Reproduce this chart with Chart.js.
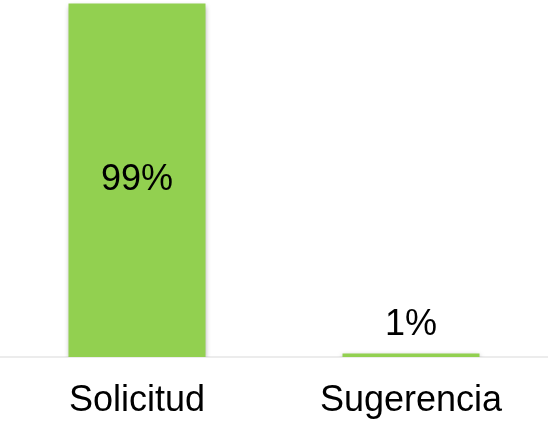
<!DOCTYPE html>
<html>
<head>
<meta charset="utf-8">
<script src="https://cdn.jsdelivr.net/npm/chart.js@4/dist/chart.umd.min.js"></script>
<style>
  html, body { margin: 0; padding: 0; background: #ffffff; }
  #wrap { width: 548px; height: 424px; position: relative; }
</style>
</head>
<body>
<div id="wrap"><canvas id="c"></canvas></div>
<script>
// Share of requests by type (percent)
const categories = ['Solicitud', 'Sugerencia'];
const percentages = [99, 1];

const FONT = '"Liberation Sans", Arial, Helvetica, sans-serif';

// Soft drop shadow behind the bars
const barShadow = {
  id: 'barShadow',
  beforeDatasetsDraw(chart) {
    const ctx = chart.ctx;
    ctx.save();
    ctx.shadowColor = 'rgba(0,0,0,0.35)';
    ctx.shadowBlur = 5;
    ctx.shadowOffsetX = 0;
    ctx.shadowOffsetY = 2;
  },
  afterDatasetsDraw(chart) {
    chart.ctx.restore();
  }
};

// Percentage labels: centred inside tall bars, above short ones
const valueLabels = {
  id: 'valueLabels',
  afterDraw(chart) {
    const ctx = chart.ctx;
    const meta = chart.getDatasetMeta(0);
    ctx.save();
    ctx.font = '36px ' + FONT;
    ctx.fillStyle = '#000000';
    ctx.textAlign = 'center';
    ctx.textBaseline = 'middle';
    meta.data.forEach((bar, i) => {
      const text = percentages[i] + '%';
      const h = bar.base - bar.y;
      const y = h > 80 ? (bar.y + bar.base) / 2 : bar.y - 28;
      ctx.fillText(text, bar.x, y);
    });
    ctx.restore();
  }
};

new Chart(document.getElementById('c'), {
  type: 'bar',
  data: {
    labels: categories,
    datasets: [{
      data: percentages,
      backgroundColor: '#92D050',
      borderWidth: 0,
      barPercentage: 0.5,
      categoryPercentage: 1.0
    }]
  },
  options: {
    responsive: true,
    maintainAspectRatio: false,
    animation: false,
    layout: { padding: { top: 0, left: 0, right: 0, bottom: 0 } },
    plugins: {
      legend: { display: false },
      tooltip: { enabled: false }
    },
    scales: {
      y: {
        display: false,
        min: 0,
        max: 100
      },
      x: {
        afterFit(scale) { scale.height = 67; },
        grid: { display: false, drawTicks: false },
        border: { display: true, color: '#ececec', width: 2 },
        ticks: {
          color: '#000000',
          font: { family: FONT, size: 36 },
          padding: 22,
          maxRotation: 0
        }
      }
    }
  },
  plugins: [barShadow, valueLabels]
});
</script>
</body>
</html>
